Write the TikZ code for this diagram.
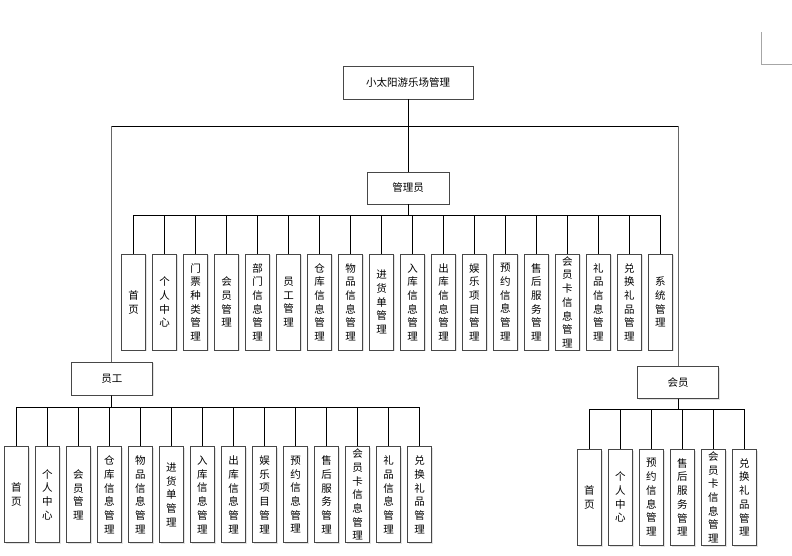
\documentclass[tikz,border=0pt]{standalone}
\usepackage{fontspec}
\newfontfamily\cjk{Noto Sans CJK SC}
\usetikzlibrary{shadows}
\begin{document}
\begin{tikzpicture}[x=1pt,y=-1pt,
  box/.style={draw=black!72, line width=0.9pt, fill=white, inner sep=0pt,
    drop shadow={shadow xshift=1.2pt, shadow yshift=-1.2pt, fill=black!18, opacity=0.6},
    font=\cjk\fontsize{10.5}{13.7}\selectfont},
  leaf/.style={box, minimum width=24pt, minimum height=96pt, align=center},
  conn/.style={draw=black, line width=0.9pt},
  longconn/.style={draw=black!60, line width=0.9pt}]
\useasboundingbox (0,0) rectangle (792,555);

% root and second level
\node[box, minimum width=130pt, minimum height=33pt] (root) at (408,82.5) {小太阳游乐场管理};
\node[box, minimum width=82pt, minimum height=32pt] (adm) at (408,188) {管理员};
\node[box, minimum width=81pt, minimum height=33pt] (staff) at (111.8,378.7) {员工};
\node[box, minimum width=81pt, minimum height=32pt] (mem) at (678,382.5) {会员};

% admin children
\foreach \t [count=\i from 0] in {
  {首\\页},{个\\人\\中\\心},{门\\票\\种\\类\\管\\理},{会\\员\\管\\理},{部\\门\\信\\息\\管\\理},
  {员\\工\\管\\理},{仓\\库\\信\\息\\管\\理},{物\\品\\信\\息\\管\\理},{进\\货\\单\\管\\理},
  {入\\库\\信\\息\\管\\理},{出\\库\\信\\息\\管\\理},{娱\\乐\\项\\目\\管\\理},{预\\约\\信\\息\\管\\理},
  {售\\后\\服\\务\\管\\理},{会\\员\\卡\\信\\息\\管\\理},{礼\\品\\信\\息\\管\\理},{兑\\换\\礼\\品\\管\\理},
  {系\\统\\管\\理}}
  \node[leaf] (a\i) at ({133.7+30.98*\i},302.2) {\t};

% staff children
\foreach \t [count=\i from 0] in {
  {首\\页},{个\\人\\中\\心},{会\\员\\管\\理},{仓\\库\\信\\息\\管\\理},{物\\品\\信\\息\\管\\理},
  {进\\货\\单\\管\\理},{入\\库\\信\\息\\管\\理},{出\\库\\信\\息\\管\\理},{娱\\乐\\项\\目\\管\\理},
  {预\\约\\信\\息\\管\\理},{售\\后\\服\\务\\管\\理},{会\\员\\卡\\信\\息\\管\\理},{礼\\品\\信\\息\\管\\理},
  {兑\\换\\礼\\品\\管\\理}}
  \node[leaf] (s\i) at ({16.3+31.03*\i},494.7) {\t};

% member children
\foreach \t [count=\i from 0] in {
  {首\\页},{个\\人\\中\\心},{预\\约\\信\\息\\管\\理},{售\\后\\服\\务\\管\\理},
  {会\\员\\卡\\信\\息\\管\\理},{兑\\换\\礼\\品\\管\\理}}
  \node[leaf] (m\i) at ({589.3+31*\i},497.3) {\t};

% connectors
\draw[conn] (root) -- (adm);
\draw[conn] (root.south) -- ++(0,27) coordinate (tb);
\draw[conn] (tb) -| (staff.north);
\draw[conn] (tb) -| (mem.north);
\draw[longconn] (staff.north) -- ++(0,-236);
\draw[longconn] (mem.north) -- ++(0,-240);

\foreach \i in {0,...,17}
  \draw[conn] (adm.south) -- ++(0,10.8) -| (a\i.north);
\foreach \i in {0,...,13}
  \draw[conn] (staff.south) -- ++(0,11.5) -| (s\i.north);
\foreach \i in {0,...,5}
  \draw[conn] (mem.south) -- ++(0,10.8) -| (m\i.north);

% page corner mark
\draw[black!35, line width=0.8pt] (761.3,32) -- (761.3,64) -- (792,64);
\end{tikzpicture}
\end{document}
